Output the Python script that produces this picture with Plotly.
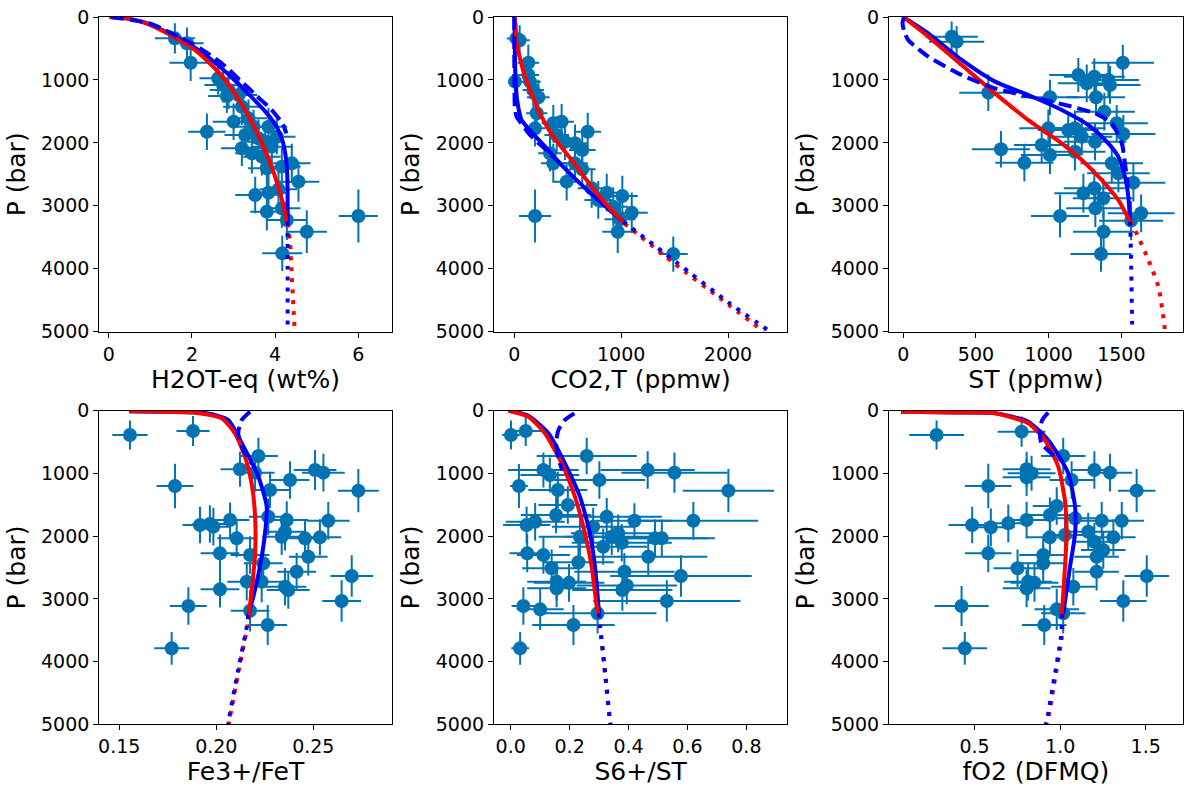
import plotly.graph_objects as go

# ---------------- data: panel 1 (H2O) ----------------
h2o_x = [1.59, 1.88, 1.97, 2.63, 2.75, 2.88, 2.84, 3.12, 3.00, 2.36, 3.20, 3.36, 3.48, 3.28, 3.60, 3.76, 3.92, 4.04, 3.84, 3.44,
         3.68, 3.80, 4.40, 4.56, 3.52, 3.84, 4.08, 3.80, 4.16, 4.28, 4.76, 6.00, 4.17, 4.16, 3.20]
h2o_p = [339, 418, 726, 975, 1080, 1160, 1255, 1239, 1663, 1822, 2086, 1610, 1743, 1875, 1928, 1981, 2060, 1902, 1743, 2166,
         2219, 2404, 2325, 2616, 2828, 2791, 2738, 3093, 3040, 3225, 3411, 3162, 3755, 2378, 1425]
h2o_xerr = [0.48, 0.40, 0.51, 0.45, 0.45, 0.45, 0.45, 0.45, 0.50, 0.45, 0.50, 0.45, 0.45, 0.50, 0.45, 0.45, 0.50, 0.45, 0.45, 0.40,
            0.45, 0.45, 0.45, 0.50, 0.48, 0.45, 0.45, 0.40, 0.45, 0.48, 0.48, 0.47, 0.48, 0.45, 0.45]
h2o_perr = [240, 250, 290, 260, 280, 300, 270, 260, 290, 290, 280, 300, 270, 280, 300, 290, 310, 280, 300, 320,
            300, 300, 310, 320, 290, 310, 300, 300, 310, 320, 340, 420, 280, 300, 290]
h2o_red_p = [0, 10, 50, 100, 250, 500, 750, 1000, 1500, 2000, 2500, 3000, 3280]
h2o_red_x = [0.02, 0.3, 0.62, 0.9, 1.38, 2.02, 2.45, 2.8, 3.3, 3.68, 3.98, 4.20, 4.28]
h2o_blue_p = [0, 10, 50, 100, 250, 500, 750, 1000, 1250, 1500, 1750, 2000, 2250, 2500, 3000, 3250]
h2o_blue_x = [0.02, 0.3, 0.64, 0.93, 1.42, 2.1, 2.6, 3.02, 3.4, 3.76, 4.04, 4.19, 4.26, 4.29, 4.30, 4.30]
h2o_bdash_p = [0, 100, 260, 500, 750, 1000, 1250, 1478, 1700, 1850]
h2o_bdash_x = [0.05, 0.97, 1.52, 2.2, 2.74, 3.15, 3.55, 3.92, 4.18, 4.27]
h2o_rdot_p = [3280, 3600, 4000, 4500, 5000]
h2o_rdot_x = [4.30, 4.36, 4.39, 4.43, 4.47]
h2o_bdot_p = [3250, 4000, 5000]
h2o_bdot_x = [4.30, 4.30, 4.30]

# ---------------- data: panel 2 (CO2) ----------------
co2_x = [20, 50, 131, 7, 147, 178, 225, 210, 365, 443, 687, 194, 397, 474, 568, 636, 334, 365, 568, 636,
         490, 724, 865, 1011, 786, 926, 1099, 194, 989, 968, 1488, 131]
co2_p = [340, 370, 726, 1027, 1027, 1160, 1276, 1530, 1689, 1663, 1822, 1769, 1875, 1981, 2007, 2113, 2166, 2325, 2325, 2420,
         2616, 2722, 2791, 2844, 2907, 3014, 3109, 3162, 3215, 3411, 3766, 922]
co2_xerr = [90, 95, 100, 60, 100, 100, 105, 100, 110, 115, 125, 100, 115, 115, 120, 125, 110, 115, 120, 125,
            120, 130, 135, 145, 130, 140, 150, 150, 145, 145, 135, 100]
co2_perr = [250, 240, 290, 280, 270, 300, 280, 290, 290, 280, 300, 290, 300, 290, 300, 300, 290, 310, 300, 310,
            300, 310, 300, 320, 300, 310, 320, 420, 300, 340, 280, 300]
co2_red_p = [0, 100, 418, 948, 1478, 1902, 2272, 2696, 3014, 3280]
co2_red_x = [0, 8, 22, 100, 225, 365, 537, 724, 880, 1030]
co2_blue_p = [0, 400, 800, 1100, 1300, 1500, 1640, 1800, 2000, 2325, 2643, 2960, 3252]
co2_blue_x = [2, 4, 8, 15, 25, 45, 69, 147, 256, 428, 615, 818, 1020]
co2_bdash_p = [0, 400, 800, 1200, 1450, 1550, 1584, 1875, 2100, 2325]
co2_bdash_x = [0, 0, 0, 2, 5, 15, 22, 147, 290, 428]
co2_rdot_p = [3280, 3913, 4500, 5000]
co2_rdot_x = [1030, 1495, 1950, 2335]
co2_bdot_p = [3252, 3900, 4530, 5000]
co2_bdot_x = [1020, 1520, 2000, 2395]

# ---------------- data: panel 3 (S total) ----------------
st_x = [333, 367, 585, 1510, 1204, 1314, 1262, 1411, 1422, 1326, 1009, 1383, 1468, 1514, 998, 1135, 1181, 1228, 1319, 952,
        1009, 672, 833, 1181, 1434, 1583, 1239, 1314, 1376, 1321, 1078, 1636, 1567, 1378, 1360, 1480]
st_p = [313, 392, 1202, 726, 922, 948, 1054, 1001, 1080, 1276, 1276, 1504, 1689, 1859, 1769, 1795, 1769, 1902, 1981, 2034,
        2193, 2102, 2315, 2140, 2325, 2632, 2802, 2722, 2881, 3040, 3162, 3119, 3236, 3411, 3766, 2484]
st_xerr = [180, 190, 200, 215, 200, 210, 200, 210, 210, 200, 200, 210, 215, 220, 200, 210, 210, 210, 215, 190,
           200, 200, 200, 210, 215, 220, 200, 210, 210, 200, 200, 230, 220, 210, 210, 215]
st_perr = [240, 250, 290, 280, 270, 290, 300, 280, 300, 280, 280, 300, 290, 300, 300, 290, 280, 300, 300, 290,
           300, 290, 300, 300, 300, 300, 310, 300, 320, 300, 340, 300, 310, 340, 280, 300]
st_red_p = [0, 313, 763, 1213, 1637, 2007, 2272, 2590, 2907, 3198, 3252]
st_red_x = [0, 172, 402, 631, 860, 1090, 1228, 1365, 1479, 1548, 1560]
st_blue_p = [0, 259, 683, 1027, 1239, 1478, 1716, 1954, 2219, 2537, 2855, 3252]
st_blue_x = [0, 172, 402, 631, 860, 1090, 1273, 1388, 1479, 1525, 1548, 1560]
st_bdash_p = [0, 100, 250, 365, 630, 922, 1133, 1319, 1530, 1689, 2007, 2325, 2700]
st_bdash_x = [5, -5, 10, 34, 172, 402, 631, 975, 1319, 1434, 1503, 1525, 1545]
st_rdot_p = [3252, 3384, 3861, 4285, 4894, 5000]
st_rdot_x = [1560, 1594, 1686, 1755, 1796, 1800]
st_bdot_p = [3252, 3384, 4000, 4841, 5000]
st_bdot_x = [1560, 1562, 1568, 1574, 1576]

# ---------------- data: panel 4 (Fe3+/FeT) ----------------
fe_x = [0.1555, 0.188, 0.1787, 0.2217, 0.2122, 0.22, 0.2509, 0.2552, 0.238, 0.2277, 0.2732, 0.1916, 0.1967, 0.1985, 0.2071,
        0.2105, 0.2019, 0.2174, 0.2242, 0.2268, 0.2363, 0.2354, 0.2337, 0.2457, 0.2534, 0.2474, 0.2577, 0.2414, 0.2354,
        0.2371, 0.2234, 0.2157, 0.2019, 0.2698, 0.2646, 0.1856, 0.2174, 0.2265, 0.177]
fe_p = [387, 324, 1200, 722, 934, 988, 945, 988, 1105, 1264, 1275, 1822, 1806, 1849, 1743, 2035, 2274, 2300, 2433, 1690,
        1743, 1929, 2009, 2035, 2019, 2328, 1754, 2567, 2806, 2859, 2726, 2726, 2848, 2636, 3034, 3114, 3189, 3417, 3789]
fe_xerr = [0.0091, 0.0085, 0.0095, 0.010, 0.010, 0.010, 0.011, 0.011, 0.010, 0.010, 0.0105, 0.009, 0.009, 0.009, 0.010,
           0.010, 0.010, 0.010, 0.010, 0.010, 0.011, 0.010, 0.010, 0.011, 0.011, 0.010, 0.011, 0.010, 0.011, 0.011,
           0.010, 0.010, 0.010, 0.011, 0.010, 0.0095, 0.010, 0.010, 0.009]
fe_perr = [230, 240, 356, 290, 280, 300, 320, 300, 300, 290, 345, 290, 300, 300, 280, 300, 300, 300, 300, 290,
           300, 300, 290, 300, 290, 300, 300, 300, 300, 300, 330, 300, 290, 330, 330, 300, 330, 320, 260]
fe_red_p = [10, 20, 35, 121, 361, 733, 1158, 1690, 2287, 2752, 3231]
fe_red_x = [0.155, 0.175, 0.19, 0.2028, 0.2096, 0.2148, 0.2182, 0.22, 0.22, 0.2186, 0.2169]
fe_blue_p = [10, 20, 40, 148, 520, 1052, 1531, 1955, 2487, 2966, 3257]
fe_blue_x = [0.155, 0.178, 0.195, 0.2062, 0.2131, 0.2217, 0.226, 0.2251, 0.2225, 0.2191, 0.2165]
fe_bdash_p = [16, 148, 361, 627, 850]
fe_bdash_x = [0.2174, 0.2131, 0.2113, 0.2139, 0.2185]
fe_rdot_p = [3231, 3444, 4134, 4975, 5000]
fe_rdot_x = [0.2172, 0.2160, 0.2116, 0.2065, 0.2064]
fe_bdot_p = [3257, 3444, 4134, 4975, 5000]
fe_bdot_x = [0.2165, 0.2157, 0.2113, 0.2062, 0.2061]

# ---------------- data: panel 5 (S6+/ST) ----------------
s6_x = [0.001, 0.051, 0.258, 0.111, 0.133, 0.465, 0.556, 0.301, 0.028, 0.16, 0.739, 0.194, 0.054, 0.083, 0.154, 0.326,
        0.42, 0.62, 0.235, 0.28, 0.343, 0.365, 0.377, 0.314, 0.49, 0.513, 0.056, 0.111, 0.139, 0.23, 0.467, 0.386, 0.578,
        0.156, 0.198, 0.156, 0.394, 0.379, 0.53, 0.043, 0.1, 0.295, 0.213, 0.032]
s6_p = [387, 324, 722, 945, 1025, 945, 988, 1105, 1200, 1264, 1275, 1504, 1822, 1770, 1663, 1690, 1754, 1754, 2009, 1849,
        2009, 1955, 2105, 2168, 2035, 2035, 2274, 2300, 2513, 2417, 2328, 2567, 2636, 2726, 2745, 2832, 2785, 2859, 3034,
        3114, 3167, 3231, 3417, 3789]
s6_xerr = [0.03, 0.06, 0.17, 0.12, 0.10, 0.16, 0.18, 0.155, 0.03, 0.10, 0.155, 0.10, 0.08, 0.10, 0.12, 0.187, 0.13, 0.22,
           0.14, 0.14, 0.16, 0.16, 0.17, 0.15, 0.18, 0.18, 0.06, 0.09, 0.10, 0.12, 0.20, 0.17, 0.24, 0.10, 0.12, 0.10,
           0.17, 0.17, 0.25, 0.04, 0.08, 0.20, 0.14, 0.03]
s6_perr = [230, 240, 290, 280, 280, 300, 320, 300, 350, 290, 345, 300, 290, 300, 290, 300, 280, 300, 300, 300,
           290, 300, 300, 290, 300, 300, 300, 300, 300, 300, 300, 300, 330, 300, 300, 300, 300, 330, 330, 300,
           330, 320, 320, 260]
s6_red_p = [0, 96, 361, 839, 1371, 1955, 2487, 3125, 3231]
s6_red_x = [-0.008, 0.06, 0.116, 0.173, 0.218, 0.252, 0.275, 0.292, 0.297]
s6_blue_p = [0, 80, 361, 839, 1371, 1955, 2487, 3231]
s6_blue_x = [-0.005, 0.06, 0.128, 0.184, 0.235, 0.269, 0.286, 0.30]
s6_bdash_p = [42, 148, 308, 520, 759, 950]
s6_bdash_x = [0.216, 0.184, 0.162, 0.154, 0.162, 0.175]
s6_rdot_p = [3231, 3444, 4187, 4975, 5000]
s6_rdot_x = [0.298, 0.303, 0.32, 0.337, 0.338]
s6_bdot_p = [3231, 3444, 4187, 4975, 5000]
s6_bdot_x = [0.299, 0.304, 0.321, 0.338, 0.339]

# ---------------- data: panel 6 (fO2) ----------------
fo2_x = [0.278, 0.775, 1.018, 0.804, 0.833, 0.804, 1.20, 1.291, 1.067, 0.580, 1.447, 0.98, 0.486, 0.595, 0.697, 0.804,
         0.94, 1.087, 1.243, 1.36, 1.164, 0.94, 1.028, 1.311, 1.20, 1.252, 0.58, 0.901, 0.901, 1.213, 0.751, 1.213, 1.506,
         0.813, 0.85, 0.804, 1.077, 1.369, 0.424, 0.98, 1.018, 0.907, 0.443]
fo2_p = [387, 334, 722, 934, 998, 1062, 945, 988, 1105, 1200, 1275, 1520, 1822, 1860, 1796, 1743, 1663, 1716, 1754, 1754,
         1929, 2019, 1982, 2019, 2089, 2221, 2274, 2300, 2433, 2328, 2513, 2567, 2636, 2726, 2745, 2832, 2806, 3034, 3114,
         3167, 3231, 3417, 3789]
fo2_xerr = [0.16, 0.14, 0.13, 0.14, 0.14, 0.14, 0.13, 0.13, 0.13, 0.136, 0.11, 0.14, 0.138, 0.14, 0.14, 0.14, 0.14, 0.13,
            0.13, 0.13, 0.13, 0.14, 0.13, 0.13, 0.13, 0.13, 0.136, 0.14, 0.14, 0.13, 0.14, 0.13, 0.13, 0.14, 0.14, 0.14,
            0.13, 0.136, 0.158, 0.13, 0.13, 0.13, 0.13]
fo2_perr = [230, 240, 290, 280, 280, 300, 300, 300, 300, 356, 345, 300, 290, 300, 300, 290, 280, 300, 300, 300,
            300, 290, 300, 290, 300, 300, 300, 300, 300, 300, 300, 300, 330, 300, 300, 300, 300, 330, 320, 330,
            320, 320, 260]
fo2_red_p = [16, 30, 41, 201, 467, 893, 1435, 1966, 2497, 2923, 3241]
fo2_red_x = [0.07, 0.4, 0.619, 0.813, 0.911, 0.989, 1.028, 1.038, 1.028, 1.018, 1.009]
fo2_blue_p = [16, 30, 41, 175, 467, 998, 1530, 1966, 2497, 3241]
fo2_blue_x = [0.07, 0.4, 0.62, 0.813, 0.93, 1.047, 1.087, 1.087, 1.057, 1.018]
fo2_bdash_p = [32, 150, 334, 520, 733]
fo2_bdash_x = [0.930, 0.895, 0.882, 0.89, 0.97]
fo2_rdot_p = [3241, 3603, 4347, 4959, 5000]
fo2_rdot_x = [1.014, 1.010, 0.965, 0.926, 0.920]
fo2_bdot_p = [3241, 3603, 4347, 4959, 5000]
fo2_bdot_x = [1.012, 1.005, 0.960, 0.921, 0.915]

# ---------------- axes labels / ticks ----------------
x_titles = ["H2OT-eq (wt%)", "CO2,T (ppmw)", "ST (ppmw)", "Fe3+/FeT", "S6+/ST", "fO2 (DFMQ)"]
x_ranges = [[-0.226, 6.80], [-190, 2555], [-98, 1922], [0.1397, 0.2904], [-0.0567, 0.939], [0.0, 1.716]]
x_tickvals = [[0, 2, 4, 6], [0, 1000, 2000], [0, 500, 1000, 1500], [0.15, 0.20, 0.25],
              [0.0, 0.2, 0.4, 0.6, 0.8], [0.5, 1.0, 1.5]]
x_ticktext = [["0", "2", "4", "6"], ["0", "1000", "2000"], ["0", "500", "1000", "1500"], ["0.15", "0.20", "0.25"],
              ["0.0", "0.2", "0.4", "0.6", "0.8"], ["0.5", "1.0", "1.5"]]
p_tickvals = [0, 1000, 2000, 3000, 4000, 5000]
p_ticktext = ["0", "1000", "2000", "3000", "4000", "5000"]
y_title = "P (bar)"

panels = [
    (h2o_x, h2o_p, h2o_xerr, h2o_perr, h2o_red_x, h2o_red_p, h2o_blue_x, h2o_blue_p, h2o_bdash_x, h2o_bdash_p,
     h2o_rdot_x, h2o_rdot_p, h2o_bdot_x, h2o_bdot_p),
    (co2_x, co2_p, co2_xerr, co2_perr, co2_red_x, co2_red_p, co2_blue_x, co2_blue_p, co2_bdash_x, co2_bdash_p,
     co2_rdot_x, co2_rdot_p, co2_bdot_x, co2_bdot_p),
    (st_x, st_p, st_xerr, st_perr, st_red_x, st_red_p, st_blue_x, st_blue_p, st_bdash_x, st_bdash_p,
     st_rdot_x, st_rdot_p, st_bdot_x, st_bdot_p),
    (fe_x, fe_p, fe_xerr, fe_perr, fe_red_x, fe_red_p, fe_blue_x, fe_blue_p, fe_bdash_x, fe_bdash_p,
     fe_rdot_x, fe_rdot_p, fe_bdot_x, fe_bdot_p),
    (s6_x, s6_p, s6_xerr, s6_perr, s6_red_x, s6_red_p, s6_blue_x, s6_blue_p, s6_bdash_x, s6_bdash_p,
     s6_rdot_x, s6_rdot_p, s6_bdot_x, s6_bdot_p),
    (fo2_x, fo2_p, fo2_xerr, fo2_perr, fo2_red_x, fo2_red_p, fo2_blue_x, fo2_blue_p, fo2_bdash_x, fo2_bdash_p,
     fo2_rdot_x, fo2_rdot_p, fo2_bdot_x, fo2_bdot_p),
]

# ---------------- figure ----------------
W, H = 1192, 792
PT = "#0173b2"
RED = "#ff0000"
BLUE = "#0000ff"
FONT = "DejaVu Sans"
col_px = [(99.3, 391.7), (494.0, 787.3), (889.0, 1182.7)]
row_px = [(17.0, 331.7), (410.7, 724.3)]

fig = go.Figure()
layout = dict(
    width=W, height=H, margin=dict(l=0, r=0, t=0, b=0, autoexpand=False),
    paper_bgcolor="white", plot_bgcolor="white", showlegend=False,
    font=dict(family=FONT, color="black"), hovermode=False,
)

for k, pan in enumerate(panels):
    (px_, pp_, pxe, ppe, rx, rp, bx, bp, dx, dp, rdx, rdp, bdx, bdp) = pan
    n = k + 1
    xa = "x" if n == 1 else f"x{n}"
    ya = "y" if n == 1 else f"y{n}"
    # data points with error bars
    fig.add_trace(go.Scatter(
        x=px_, y=pp_, mode="markers", xaxis=xa, yaxis=ya,
        marker=dict(color=PT, size=14, line=dict(width=0)),
        error_x=dict(type="data", array=pxe, visible=True, color=PT, thickness=2, width=0),
        error_y=dict(type="data", array=ppe, visible=True, color=PT, thickness=2, width=0),
    ))
    fig.add_trace(go.Scatter(x=bx, y=bp, mode="lines", xaxis=xa, yaxis=ya,
                             line=dict(color=BLUE, width=4, shape="spline", smoothing=0.6)))
    fig.add_trace(go.Scatter(x=rx, y=rp, mode="lines", xaxis=xa, yaxis=ya,
                             line=dict(color=RED, width=4, shape="spline", smoothing=0.6)))
    fig.add_trace(go.Scatter(x=dx, y=dp, mode="lines", xaxis=xa, yaxis=ya,
                             line=dict(color=BLUE, width=4, dash="13px,6px", shape="spline", smoothing=0.6)))
    fig.add_trace(go.Scatter(x=rdx, y=rdp, mode="lines", xaxis=xa, yaxis=ya,
                             line=dict(color=RED, width=4, dash="4px,7px", shape="spline", smoothing=0.6)))
    fig.add_trace(go.Scatter(x=bdx, y=bdp, mode="lines", xaxis=xa, yaxis=ya,
                             line=dict(color=BLUE, width=4, dash="4px,7px", shape="spline", smoothing=0.6)))

    c0, c1 = col_px[k % 3]
    r0, r1 = row_px[k // 3]
    common = dict(showline=True, mirror=True, linecolor="black", linewidth=1.2, ticks="outside",
                  ticklen=5, tickwidth=1.2, tickcolor="black", showgrid=False, zeroline=False,
                  automargin=False, tickfont=dict(family=FONT, size=19, color="black"))
    layout["xaxis" if n == 1 else f"xaxis{n}"] = dict(
        domain=[c0 / W, c1 / W], anchor=ya, range=x_ranges[k],
        tickvals=x_tickvals[k], ticktext=x_ticktext[k],
        title=dict(text=x_titles[k], font=dict(family=FONT, size=25, color="black"), standoff=5),
        **common)
    layout["yaxis" if n == 1 else f"yaxis{n}"] = dict(
        domain=[1 - r1 / H, 1 - r0 / H], anchor=xa, range=[5000, 0],
        tickvals=p_tickvals, ticktext=p_ticktext,
        title=dict(text=y_title, font=dict(family=FONT, size=25, color="black"), standoff=8),
        **common)

fig.update_layout(**layout)
fig.write_html("out.html")
